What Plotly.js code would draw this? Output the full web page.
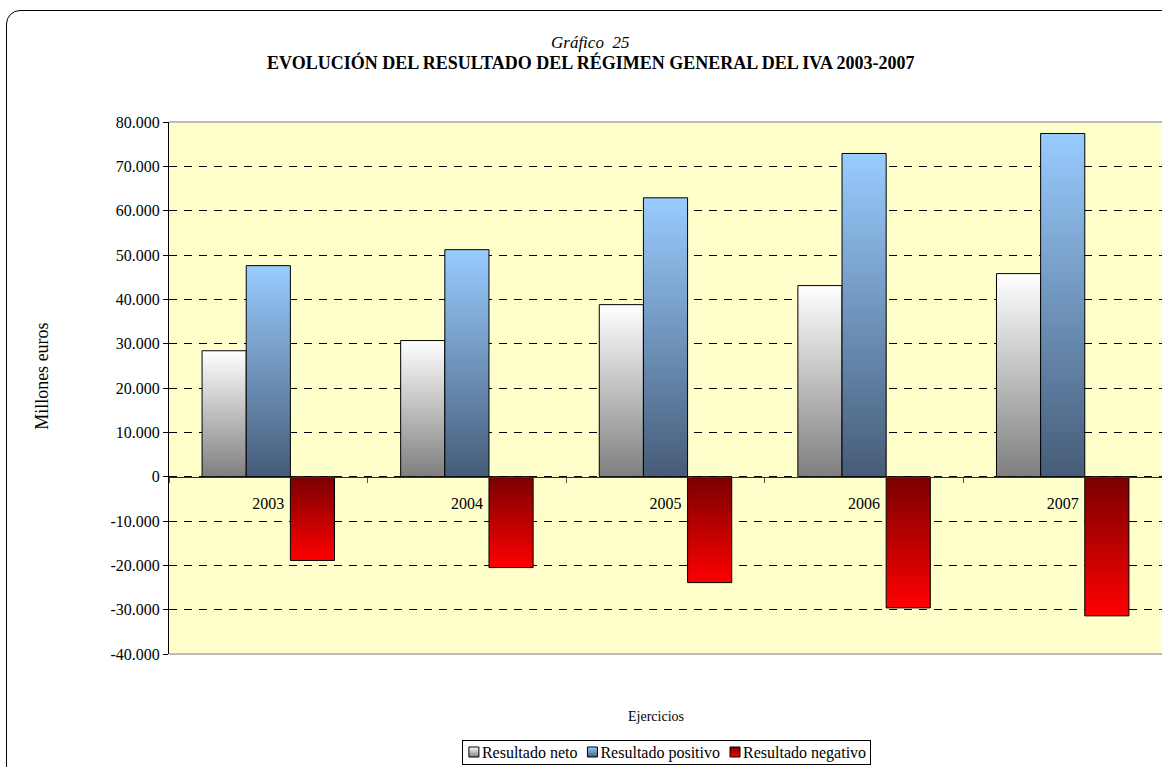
<!DOCTYPE html>
<html>
<head>
<meta charset="utf-8">
<script src="https://cdn.plot.ly/plotly-3.0.1.min.js"></script>
<style>
html,body{margin:0;padding:0;background:#fff;overflow:hidden;}
#frame{position:absolute;left:6px;top:10px;width:1200px;height:800px;border:1px solid #000;border-radius:14px;pointer-events:none;z-index:2;}
#chart{position:absolute;left:0;top:0;width:1162px;height:767px;z-index:1;}
</style>
</head>
<body>
<div id="chart"></div>
<div id="frame"></div>
<script>
const categories = ['2003','2004','2005','2006','2007'];
const resultadoNeto = [28400, 30700, 38800, 43100, 45800];
const resultadoPositivo = [47600, 51200, 62900, 72900, 77400];
const resultadoNegativo = [-18900, -20500, -23900, -29600, -31400];
const seriesNames = ['Resultado neto','Resultado positivo','Resultado negativo'];
const yTickVals = [-40000,-30000,-20000,-10000,0,10000,20000,30000,40000,50000,60000,70000,80000];
const yTickText = ['-40.000','-30.000','-20.000','-10.000','0','10.000','20.000','30.000','40.000','50.000','60.000','70.000','80.000'];

const FONT = 'Liberation Serif, Times New Roman, serif';
const line = {color:'#000', width:1};

const traces = [
  {type:'bar', name:seriesNames[0], x:categories, y:resultadoNeto, marker:{color:'#c0c0c0', line:line}},
  {type:'bar', name:seriesNames[1], x:categories, y:resultadoPositivo, marker:{color:'#7aa0cc', line:line}},
  {type:'bar', name:seriesNames[2], x:categories, y:resultadoNegativo, marker:{color:'#c00000', line:line}}
];

const layout = {
  width:1162, height:767,
  margin:{l:169, r:0, t:122, b:113},
  paper_bgcolor:'rgba(0,0,0,0)',
  plot_bgcolor:'#FFFFCC',
  font:{family:FONT, size:16, color:'#000'},
  barmode:'group', bargap:0.333, bargroupgap:0,
  showlegend:true,
  legend:{orientation:'h', x:0.5005, xanchor:'center', xref:'paper', y:(767-751.5)/767, yanchor:'middle', yref:'container',
    bordercolor:'#000', borderwidth:1, bgcolor:'#fff', font:{family:FONT,size:16},
    traceorder:'normal', itemwidth:30, tracegroupgap:0},
  xaxis:{type:'category', anchor:'free', position:1/3, showline:true, linecolor:'#333', linewidth:1,
    ticks:'outside', tickson:'boundaries', ticklen:5, tickcolor:'#555', showgrid:false, zeroline:false,
    ticklabelstandoff:12, tickfont:{family:FONT,size:16}},
  yaxis:{range:[-40000,80000], tickvals:yTickVals, ticktext:yTickText, showline:true, linecolor:'#000', linewidth:1,
    ticks:'outside', ticklen:5, tickcolor:'#000', showgrid:true, gridcolor:'#000', gridwidth:1, griddash:'8px,7px',
    zeroline:false, tickfont:{family:FONT,size:16}},
  shapes:[
    {type:'line', xref:'paper', yref:'paper', x0:0, x1:1, y0:1, y1:1, line:{color:'#a8a8a8', width:1.5}},
    {type:'line', xref:'paper', yref:'paper', x0:0, x1:1, y0:0, y1:0, line:{color:'#a8a8a8', width:1.5}}
  ],
  annotations:[
    {text:'<i>Gráfico  25</i>', xref:'paper', yref:'paper', x:0.424, y:1.1485, xanchor:'center', yanchor:'middle', showarrow:false, font:{family:FONT,size:17}},
    {text:'<b>EVOLUCIÓN DEL RESULTADO DEL RÉGIMEN GENERAL DEL IVA 2003-2007</b>', xref:'paper', yref:'paper', x:0.424, y:1.111, xanchor:'center', yanchor:'middle', showarrow:false, font:{family:FONT,size:18}},
    {text:'Millones euros', xref:'paper', yref:'paper', x:-0.128, y:0.5226, xanchor:'center', yanchor:'middle', textangle:-90, showarrow:false, font:{family:FONT,size:18}},
    {text:'Ejercicios', xref:'paper', yref:'paper', x:0.4904, y:-0.1184, xanchor:'center', yanchor:'middle', showarrow:false, font:{family:FONT,size:14}}
  ]
};

const grads = [
  [['0%','#ffffff'],['100%','#7f7f7f']],
  [['0%','#99ccff'],['100%','#465c78']],
  [['0%','#7a0000'],['100%','#ff0000']]
];

function applyGradients(gd){
  const svg = gd.querySelector('svg.main-svg');
  const NS = 'http://www.w3.org/2000/svg';
  let defs = svg.querySelector('defs');
  if(!defs){defs = document.createElementNS(NS,'defs'); svg.insertBefore(defs, svg.firstChild);}
  grads.forEach((stops,i)=>{
    const lg = document.createElementNS(NS,'linearGradient');
    lg.setAttribute('id','barGrad'+i);
    lg.setAttribute('x1','0'); lg.setAttribute('y1','0'); lg.setAttribute('x2','0'); lg.setAttribute('y2','1');
    stops.forEach(s=>{
      const st = document.createElementNS(NS,'stop');
      st.setAttribute('offset',s[0]); st.setAttribute('stop-color',s[1]);
      lg.appendChild(st);
    });
    defs.appendChild(lg);
  });
  gd.querySelectorAll('.barlayer .trace').forEach((t,i)=>{
    t.querySelectorAll('path').forEach(p=>{ p.style.fill = 'url(#barGrad'+i+')'; });
  });
  gd.querySelectorAll('.legend .traces').forEach((t,i)=>{
    t.querySelectorAll('.legendpoints path').forEach(p=>{ p.style.fill = 'url(#barGrad'+i+')'; });
  });
  return gd;
}

function tweakLegend(gd){
  const leg = gd.querySelector('g.legend'); if(!leg) return;
  const bg = leg.querySelector('rect.bg'); if(!bg) return;
  const items = leg.querySelectorAll('g.traces');
  const H = 24;
  let x = 3;
  items.forEach(it=>{
    const t = it.querySelector('text.legendtext');
    const p = it.querySelector('.legendpoints path');
    if(p){ p.setAttribute('d','M5,5H-5V-5H5Z'); p.setAttribute('transform','translate(9,0)'); p.style.strokeWidth = '1px'; p.style.stroke = '#000'; }
    if(t){ t.setAttribute('x', 17); }
    const w = t ? t.getComputedTextLength() : 0;
    it.setAttribute('transform', 'translate(' + x + ',' + (H/2) + ')');
    x += 17 + w + 6;
  });
  const total = x - 2;
  bg.setAttribute('width', total);
  bg.setAttribute('height', H);
  leg.setAttribute('transform', 'translate(' + (666 - total/2) + ',740)');
}

Plotly.newPlot('chart', traces, layout, {displayModeBar:false, staticPlot:true}).then(applyGradients).then(tweakLegend);
</script>
</body>
</html>
